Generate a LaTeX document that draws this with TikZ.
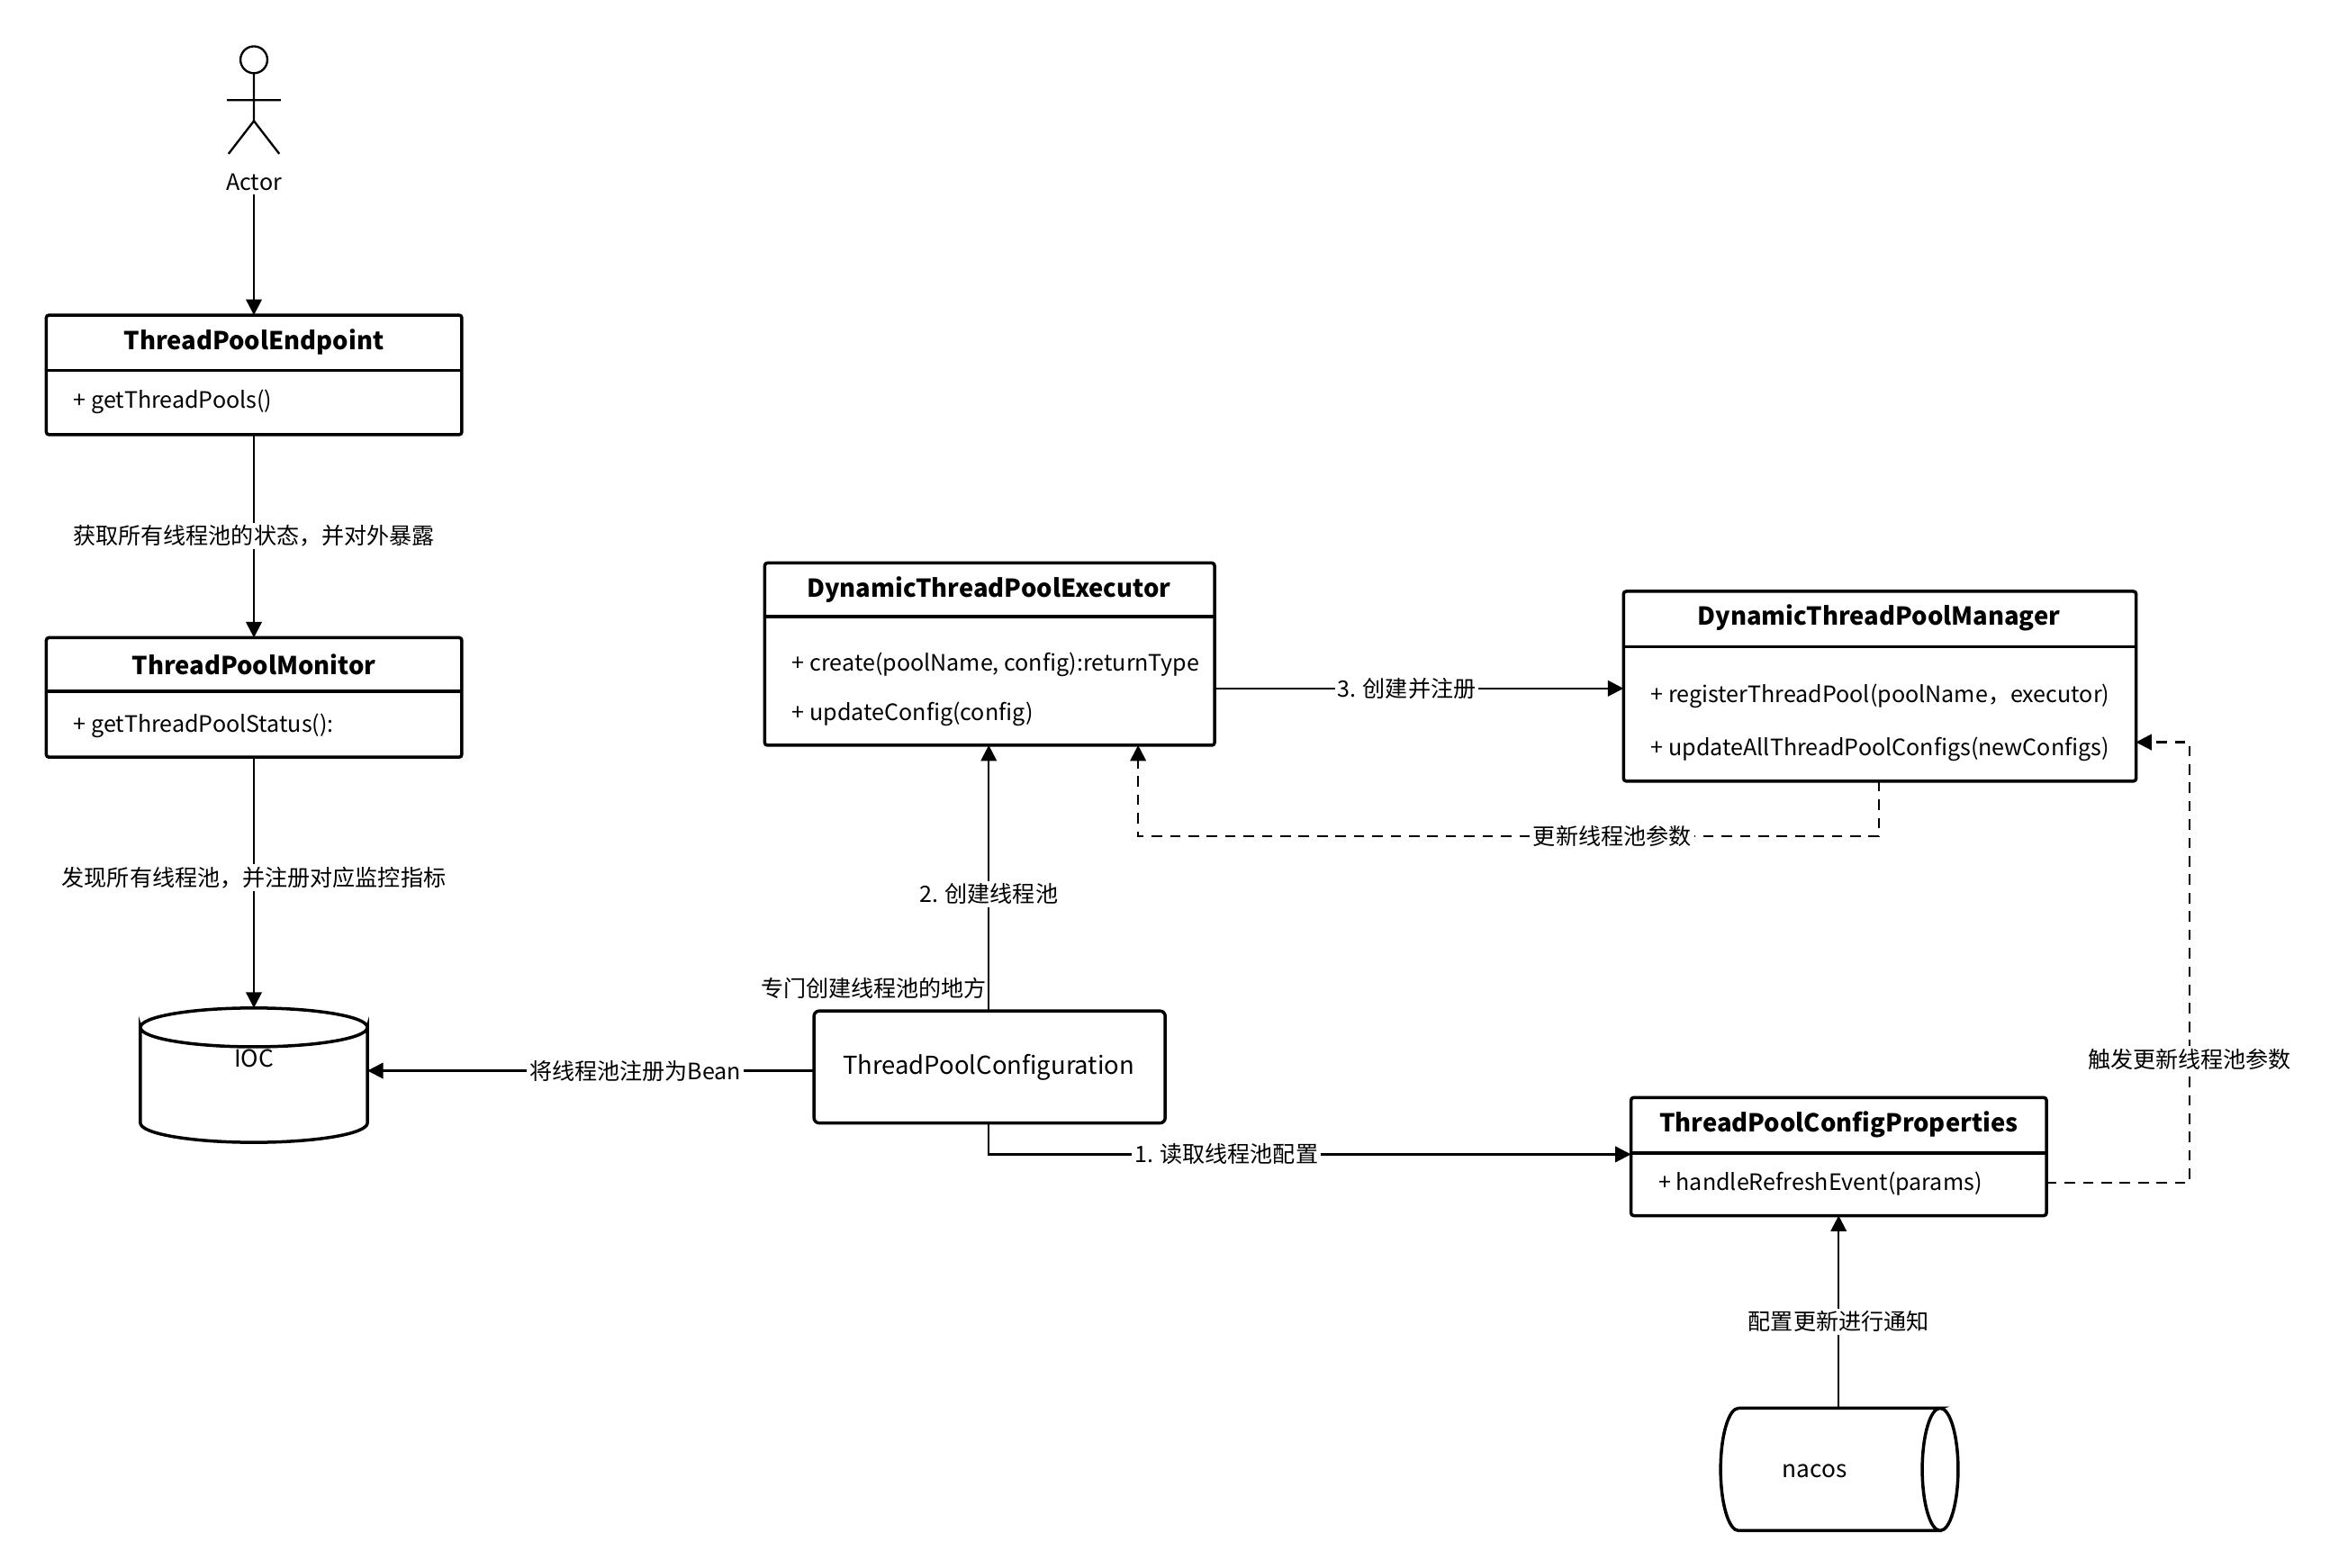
\documentclass[tikz,border=0pt]{standalone}
\usepackage{fontspec}
\setmainfont{Noto Sans CJK SC}
\usetikzlibrary{arrows.meta}

\tikzset{
  cls/.style={draw, line width=0.6pt, rounded corners=0.5pt, anchor=north west, inner sep=0pt, outer sep=0pt},
  ttl/.style={font=\fontsize{4.7}{6}\selectfont\bfseries},
  mth/.style={font=\fontsize{4.3}{5.5}\selectfont, anchor=west},
  lbl/.style={font=\fontsize{4.3}{5.5}\selectfont, fill=white, inner sep=0.5pt},
  arr/.style={line width=0.4pt, -{Triangle[length=3pt,width=3pt]}},
  darr/.style={arr, dash pattern=on 2pt off 1.5pt}
}

\begin{document}
\begin{tikzpicture}[x=0.01cm,y=-0.01cm]
  \useasboundingbox (0,0) rectangle (1560,1050);

  % actor
  \draw[line width=0.4pt] (170,40) circle[radius=9];
  \draw[line width=0.4pt] (170,49) -- (170,81) (152,67) -- (188,67)
    (153,103) -- (170,81) -- (187,103);
  \node[font=\fontsize{4.3}{5.5}\selectfont, fill=white, inner sep=0.5pt] (actor) at (170,122) {Actor};

  % ThreadPoolEndpoint
  \node[cls, minimum width=2.78cm, minimum height=0.8cm] (ep) at (31,211) {};
  \draw[line width=0.6pt] (31,248) -- (309,248);
  \node[ttl] at (170,229) {ThreadPoolEndpoint};
  \node[mth] at (37,269) {+ getThreadPools()};

  % ThreadPoolMonitor
  \node[cls, minimum width=2.78cm, minimum height=0.8cm] (mon) at (31,427) {};
  \draw[line width=0.6pt] (31,463) -- (309,463);
  \node[ttl] at (170,445) {ThreadPoolMonitor};
  \node[mth] at (37,486) {+ getThreadPoolStatus():};

  % IOC
  \draw[line width=0.6pt] (94,688) arc[x radius=76, y radius=13, start angle=180, end angle=360]
    (94,688) arc[x radius=76, y radius=13, start angle=180, end angle=0]
    -- (246,752) arc[x radius=76, y radius=13, start angle=0, end angle=180] -- cycle;
  \coordinate (ioctop) at (170,675);
  \coordinate (iocright) at (246,717);
  \node[font=\fontsize{4.5}{5.5}\selectfont] (ioc) at (170,709) {IOC};

  % ThreadPoolConfiguration
  \node[cls, minimum width=2.35cm, minimum height=0.75cm, rounded corners=1pt] (cfg) at (545,677) {};
  \node[font=\fontsize{4.7}{6}\selectfont] at (662,715) {ThreadPoolConfiguration};
  \node[font=\fontsize{4.3}{5.5}\selectfont] at (585,662) {专门创建线程池的地方};

  % DynamicThreadPoolExecutor
  \node[cls, minimum width=3.01cm, minimum height=1.22cm] (exe) at (512,377) {};
  \draw[line width=0.6pt] (512,413) -- (813,413);
  \node[ttl] at (662,395) {DynamicThreadPoolExecutor};
  \node[mth] at (518,445) {+ create(poolName, config):returnType};
  \node[mth] at (518,478) {+ updateConfig(config)};

  % DynamicThreadPoolManager
  \node[cls, minimum width=3.43cm, minimum height=1.27cm] (mgr) at (1087,396) {};
  \draw[line width=0.6pt] (1087,433) -- (1430,433);
  \node[ttl] at (1258,414) {DynamicThreadPoolManager};
  \node[mth] at (1093,466) {+ registerThreadPool(poolName，executor)};
  \node[mth] at (1093,502) {+ updateAllThreadPoolConfigs(newConfigs)};

  % ThreadPoolConfigProperties
  \node[cls, minimum width=2.78cm, minimum height=0.79cm] (prop) at (1092,735) {};
  \draw[line width=0.6pt] (1092,772) -- (1370,772);
  \node[ttl] at (1231,753) {ThreadPoolConfigProperties};
  \node[mth] at (1098,793) {+ handleRefreshEvent(params)};

  % nacos
  \draw[line width=0.6pt] (1164,943) -- (1299,943)
    arc[x radius=12, y radius=41, start angle=270, end angle=-90]
    (1299,1025) -- (1164,1025)
    arc[x radius=12, y radius=41, start angle=90, end angle=270];
  \coordinate (nacostop) at (1231,943);
  \node[font=\fontsize{4.5}{5.5}\selectfont] (nacos) at (1215,985) {nacos};

  % connectors
  \draw[arr] (actor.south) -- (ep.north -| actor.south);
  \draw[arr] (170,291) -- node[lbl] {获取所有线程池的状态，并对外暴露} (170,427);
  \draw[arr] (170,507) -- node[lbl, pos=0.48] {发现所有线程池，并注册对应监控指标} (ioctop);
  \draw[arr] (cfg.west |- iocright) -- node[lbl, pos=0.4] {将线程池注册为Bean} (iocright);
  \draw[arr] (cfg.north -| 662,0) -- node[lbl, pos=0.44] {2. 创建线程池} (662,499);
  \draw[arr] (813,461) -- node[lbl, pos=0.47] {3. 创建并注册} (1087,461);
  \draw[darr] (1258,523) -- (1258,560) -- node[lbl, pos=0.36] {更新线程池参数} (762,560) -- (762,499);
  \draw[arr] (662,752) -- (662,773) -- node[lbl, pos=0.37] {1. 读取线程池配置} (1092,773);
  \draw[darr] (1370,792) -- (1466,792) -- node[lbl, pos=0.28] {触发更新线程池参数} (1466,497) -- (1430,497);
  \draw[arr] (nacostop) -- node[lbl, pos=0.45] {配置更新进行通知} (1231,814);
\end{tikzpicture}
\end{document}
